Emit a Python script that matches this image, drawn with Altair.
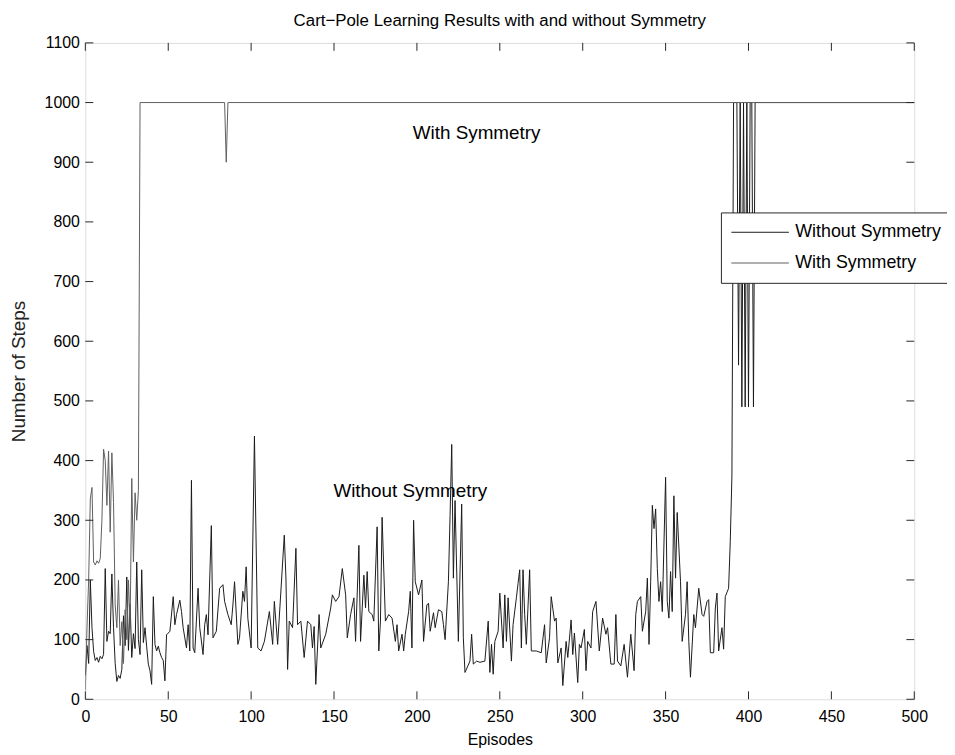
import altair as alt
import pandas as pd

# ---------------- data ----------------
series_names = ["Without Symmetry", "With Symmetry"]
series_colors = ["#1a1a1a", "#5e5e5e"]

# (episode, number of steps)
without_readings = [
    (0, 40), (1, 90), (2, 60), (3, 200), (4, 120), (5, 80), (6, 65), (7, 70), (8, 62), (9, 72),
    (10, 68), (11, 75), (12, 219), (13, 97), (14, 114), (15, 110), (16, 210), (17, 120), (18, 60),
    (19, 30), (20, 40), (21, 35), (22, 50), (23, 140), (24, 90), (25, 205), (26, 82), (27, 160),
    (28, 70), (29, 110), (30, 85), (31, 230), (32, 100), (33, 75), (34, 217), (35, 95), (36, 120),
    (37, 88), (38, 59), (39, 48), (40, 25), (41, 172), (42, 92), (43, 81), (44, 89), (45, 78),
    (46, 70), (47, 65), (48, 31), (49, 108), (51, 114), (53, 172), (54, 125), (55, 142), (57, 166),
    (58, 147), (59, 120), (61, 86), (62, 125), (63, 81), (64, 367), (65, 86), (66, 78), (68, 186),
    (69, 120), (71, 75), (72, 125), (73, 142), (74, 108), (76, 291), (77, 103), (79, 114), (81, 186),
    (83, 192), (84, 164), (86, 142), (88, 125), (89, 158), (90, 197), (92, 92), (93, 103), (95, 181),
    (96, 164), (97, 222), (98, 136), (100, 86), (102, 441), (104, 86), (106, 81), (108, 97),
    (111, 147), (113, 92), (114, 164), (116, 92), (120, 275), (121, 203), (122, 50), (123, 131),
    (125, 120), (127, 253), (128, 125), (130, 131), (132, 70), (134, 131), (136, 125), (137, 86),
    (138, 122), (139, 25), (141, 142), (142, 86), (145, 109), (148, 153), (149, 175), (151, 164),
    (153, 172), (155, 219), (157, 175), (158, 103), (160, 142), (162, 170), (163, 97), (165, 258),
    (166, 97), (168, 208), (169, 153), (170, 214), (171, 147), (173, 142), (174, 131), (176, 289),
    (177, 81), (178, 131), (179, 305), (181, 131), (183, 142), (185, 136), (187, 97), (188, 125),
    (189, 81), (191, 109), (192, 81), (193, 109), (195, 147), (196, 181), (197, 86), (198, 300),
    (199, 197), (201, 175), (203, 200), (204, 97), (206, 158), (207, 161), (208, 114), (210, 145),
    (211, 120), (213, 150), (215, 147), (216, 125), (217, 100), (219, 197), (220, 308), (221, 427),
    (222, 203), (223, 333), (225, 97), (227, 327), (228, 103), (229, 45), (232, 64), (233, 109),
    (234, 59), (236, 64), (238, 62), (241, 64), (243, 131), (244, 45), (245, 92), (246, 42),
    (247, 97), (249, 114), (250, 178), (252, 86), (253, 175), (254, 97), (255, 170), (257, 64),
    (258, 125), (260, 170), (261, 194), (262, 217), (263, 86), (264, 217), (265, 142), (266, 92),
    (268, 217), (269, 81), (272, 81), (275, 78), (277, 125), (278, 61), (280, 103), (281, 172),
    (283, 131), (284, 136), (285, 61), (287, 86), (288, 23), (290, 97), (291, 70), (293, 133),
    (294, 75), (295, 111), (297, 28), (298, 92), (299, 86), (301, 117), (302, 48), (303, 97),
    (305, 86), (306, 147), (308, 164), (310, 81), (312, 136), (314, 109), (315, 120), (317, 59),
    (319, 59), (320, 142), (321, 64), (323, 56), (325, 92), (327, 37), (329, 109), (331, 48),
    (332, 142), (333, 164), (335, 172), (336, 114), (338, 147), (339, 203), (340, 92), (341, 197),
    (342, 325), (343, 286), (344, 319), (345, 219), (346, 164), (347, 197), (348, 147), (350, 372),
    (351, 164), (352, 136), (353, 214), (354, 147), (355, 341), (356, 203), (357, 313), (359, 197),
    (360, 97), (362, 142), (363, 197), (364, 97), (365, 37), (367, 142), (368, 120), (370, 186),
    (372, 142), (373, 139), (375, 164), (376, 167), (377, 78), (379, 78), (380, 153), (381, 178),
    (382, 81), (384, 120), (385, 84), (386, 172), (388, 186), (389, 264), (390, 374), (391, 1000),
    (392, 1000), (393, 1000), (394, 560), (395, 1000), (396, 490), (397, 1000), (398, 490),
    (399, 1000), (400, 490), (401, 1000), (402, 1000), (403, 490), (404, 1000), (500, 1000),
]

with_readings = [
    (0, 15), (1, 120), (2, 200), (3, 336), (4, 355), (5, 230), (6, 225), (7, 232), (8, 228),
    (9, 236), (10, 300), (11, 419), (12, 400), (13, 325), (14, 416), (15, 280), (16, 413),
    (17, 330), (18, 158), (19, 120), (20, 200), (21, 90), (22, 130), (23, 60), (24, 150),
    (25, 100), (26, 200), (27, 120), (28, 370), (29, 230), (30, 346), (31, 300), (32, 350),
    (33, 1000), (84, 1000), (85, 900), (86, 1000), (500, 1000),
]

x_ticks = [0, 50, 100, 150, 200, 250, 300, 350, 400, 450, 500]
y_ticks = [0, 100, 200, 300, 400, 500, 600, 700, 800, 900, 1000, 1100]

annot_labels = ["With Symmetry", "Without Symmetry"]
annot_episode = [236, 196]
annot_steps = [949, 349]

# ---------------- tables ----------------
rows = []
for ep, st in without_readings:
    rows.append({"series": series_names[0], "episode": ep, "steps": st})
for ep, st in with_readings:
    rows.append({"series": series_names[1], "episode": ep, "steps": st})
lines_df = pd.DataFrame(rows)
annot_df = pd.DataFrame({"label": annot_labels, "episode": annot_episode, "steps": annot_steps})
xt_df = pd.DataFrame({"t": x_ticks})
yt_df = pd.DataFrame({"t": y_ticks})

W, H = 836, 662
FONT = "Liberation Sans"

x_scale = alt.Scale(domain=[0, 500], nice=False, zero=False)
y_scale = alt.Scale(domain=[0, 1100], nice=False, zero=False)

x_axis = alt.Axis(values=x_ticks, title="Episodes", ticks=False, domain=False, grid=False,
                  format="d", labelFlush=False, labelFontSize=16, labelPadding=9,
                  titleFontSize=16, titlePadding=8,
                  labelFont=FONT, titleFont=FONT, titleFontWeight="normal",
                  labelColor="black", titleColor="black")
y_axis = alt.Axis(values=y_ticks, title="Number of Steps", ticks=False, domain=False, grid=False,
                  format="d", labelFlush=False, labelFontSize=16, labelPadding=6,
                  titleFontSize=19, titlePadding=16,
                  labelFont=FONT, titleFont=FONT, titleFontWeight="normal",
                  labelColor="black", titleColor="#222222")

lines = alt.Chart(lines_df).mark_line(strokeWidth=1, clip=True).encode(
    x=alt.X("episode:Q", scale=x_scale, axis=x_axis),
    y=alt.Y("steps:Q", scale=y_scale, axis=y_axis),
    color=alt.Color("series:N", scale=alt.Scale(domain=series_names, range=series_colors),
                    legend=alt.Legend(orient="none", legendX=641, legendY=171, title=None,
                                      symbolType="stroke", symbolSize=3364, symbolStrokeWidth=1,
                                      clipHeight=20, rowPadding=11, labelOffset=6,
                                      labelFontSize=18, labelFont=FONT, labelColor="black",
                                      strokeColor="#262626", fillColor="white", padding=10,
                                      cornerRadius=0)),
    detail="series:N",
    order="episode:Q",
)

annots = alt.Chart(annot_df).mark_text(fontSize=19, font=FONT, color="black",
                                       align="center", baseline="middle").encode(
    x=alt.X("episode:Q", scale=x_scale, axis=x_axis),
    y=alt.Y("steps:Q", scale=y_scale, axis=y_axis),
    text="label:N",
)

tick_style = dict(color="#262626", strokeWidth=1)
bottom_ticks = alt.Chart(xt_df).mark_rule(**tick_style).encode(
    x=alt.X("t:Q", scale=x_scale, axis=x_axis), y=alt.value(H), y2=alt.value(H - 8))
top_ticks = alt.Chart(xt_df).mark_rule(**tick_style).encode(
    x=alt.X("t:Q", scale=x_scale, axis=x_axis), y=alt.value(0), y2=alt.value(8))
left_ticks = alt.Chart(yt_df).mark_rule(**tick_style).encode(
    y=alt.Y("t:Q", scale=y_scale, axis=y_axis), x=alt.value(0), x2=alt.value(8))
right_ticks = alt.Chart(yt_df).mark_rule(**tick_style).encode(
    y=alt.Y("t:Q", scale=y_scale, axis=y_axis), x=alt.value(W), x2=alt.value(W - 8))

chart = alt.layer(
    lines, annots, bottom_ticks, top_ticks, left_ticks, right_ticks
).properties(
    width=W, height=H,
    title=alt.TitleParams("Cart\u2212Pole Learning Results with and without Symmetry",
                          fontSize=17, font=FONT, fontWeight="normal", color="black",
                          anchor="middle", offset=5),
    autosize=alt.AutoSizeParams(type="none"),
    padding={"left": 78, "top": 32, "right": 33, "bottom": 52},
).configure_view(
    stroke="#262626", strokeWidth=1
).configure(background="white")

chart.save("out.html", embed_options={"renderer": "svg", "actions": False})
